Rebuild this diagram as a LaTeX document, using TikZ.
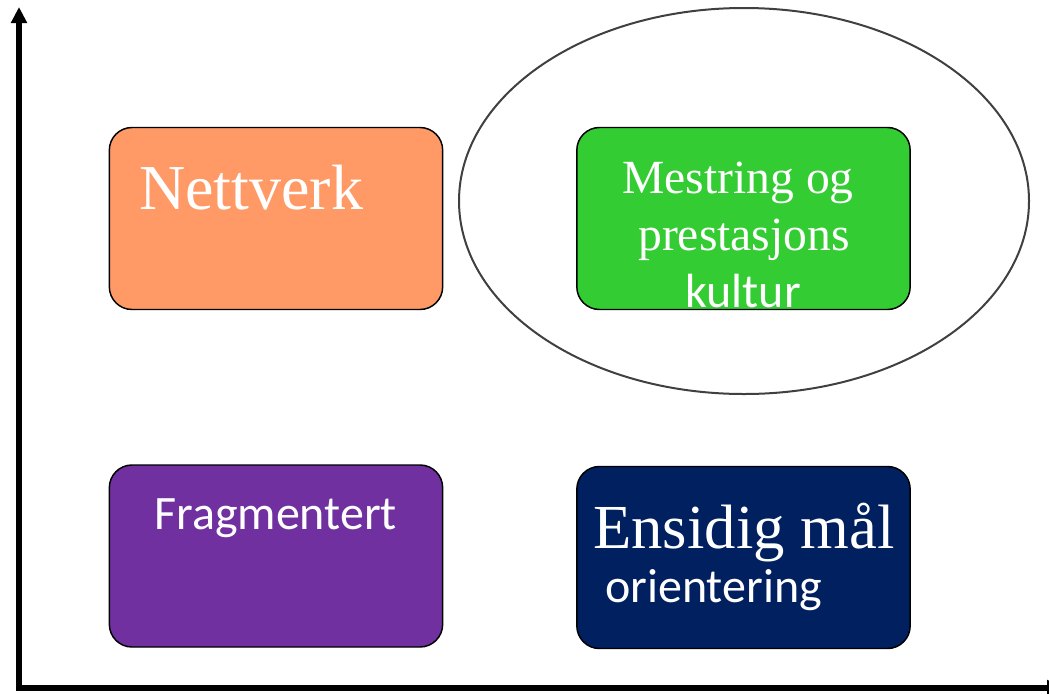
\documentclass[tikz,border=0pt]{standalone}
\usepackage{fontspec}
\setmainfont{Liberation Serif}
\newfontfamily\calibri{Carlito}
\usetikzlibrary{arrows.meta,shapes.geometric}
\definecolor{cOrange}{HTML}{FF9966}
\definecolor{cGreen}{HTML}{33CC33}
\definecolor{cPurple}{HTML}{7030A0}
\definecolor{cNavy}{HTML}{002060}
\definecolor{cRing}{HTML}{404040}
\tikzset{
  quadbox/.style={draw=black, line width=1.1pt, rounded corners=17pt,
    minimum width=250pt, minimum height=136.5pt, inner sep=0pt},
  label/.style={text=white, inner sep=0pt, anchor=base west},
  axisline/.style={line width=3.9pt, line join=miter,
    {Triangle[length=12pt,width=11.5pt]}-{Triangle[length=12pt,width=11.5pt]}},
}
\begin{document}
\begin{tikzpicture}[x=0.75pt,y=-0.75pt]
\useasboundingbox (0,0) rectangle (1049,693);
% ring
\node[ellipse, draw=cRing, line width=1.5pt, minimum width=427.5pt,
  minimum height=289.5pt, inner sep=0pt] (ring) at (744,201) {};
% boxes
\node[quadbox, fill=cOrange] (nett) at (276,218.5) {};
\node[quadbox, fill=cGreen] (mest) at (743.5,218.5) {};
\node[quadbox, fill=cPurple] (frag) at (276,556) {};
\node[quadbox, fill=cNavy] (ens) at (743.5,557.5) {};
% texts
\node[label, font=\fontsize{48}{48}\selectfont] (tnett) at (139,209) {Nettverk};
\node[label, font=\fontsize{35.7}{35.7}\selectfont] (tmest1) at (622,193) {Mestring og};
\node[label, font=\fontsize{35.7}{35.7}\selectfont] (tmest2) at (638,250) {prestasjons};
\node[label, font=\calibri\fontsize{36}{36}\selectfont] (tmest3) at (685,307) {kultur};
\node[label, font=\calibri\fontsize{36}{36}\selectfont] (tfrag) at (154,529) {Fragmentert};
\node[label, font=\fontsize{47}{47}\selectfont] (tens1) at (593,548) {Ensidig mål};
\node[label, font=\calibri\fontsize{36}{36}\selectfont] (tens2) at (605,602) {orientering};
% axes
\coordinate (ytip) at (19,7);
\coordinate (origin) at (19,688);
\coordinate (xtip) at (1063,688);
\draw[axisline] (ytip) -- (origin) -- (xtip);
\end{tikzpicture}
\end{document}
